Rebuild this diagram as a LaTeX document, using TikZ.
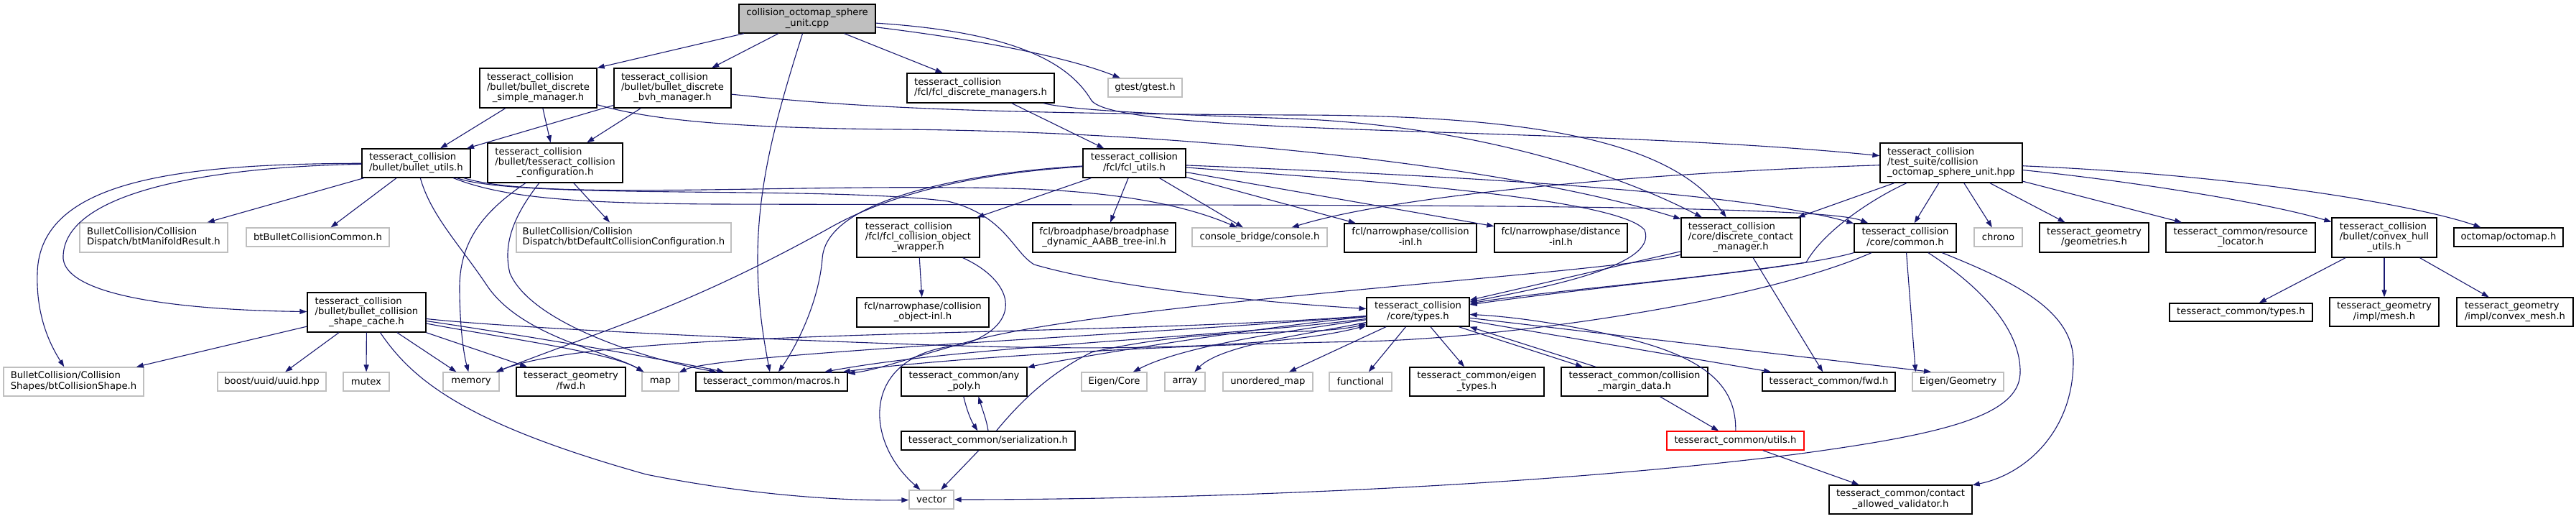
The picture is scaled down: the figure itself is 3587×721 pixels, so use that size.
\documentclass[tikz,border=0pt]{standalone}
\usepackage{fontspec}
\setmainfont{DejaVu Sans}
\usetikzlibrary{arrows.meta}
\definecolor{edgecol}{HTML}{191970}
\definecolor{grayb}{HTML}{BFBFBF}
\newcommand{\mlab}[2]{\begin{tabular}{@{}l@{}}#1\\\multicolumn{1}{@{}c@{}}{#2}\end{tabular}}
\newcommand{\mknode}[7]{\node[#6, minimum width=#4pt, minimum height=#5pt] (#1) at (#2,#3) {#7};}
\tikzset{
  nb/.style={draw=black, fill=white, line width=1.3pt, inner sep=0pt},
  ng/.style={draw=grayb, fill=white, line width=1.3pt, inner sep=0pt},
  nr/.style={draw=red, fill=white, line width=1.3pt, inner sep=0pt},
  nroot/.style={draw=black, fill=grayb, line width=1.3pt, inner sep=0pt},
  ed/.style={draw=edgecol, line width=1.1pt, line join=round, -{Triangle[length=10pt,width=7pt]}}
}
\begin{document}
\begin{tikzpicture}[x=1pt,y=-1pt,font=\fontsize{13.2}{14.3}\selectfont]
\fill[white] (0,0) rectangle (3587,721);
\useasboundingbox (0,0) rectangle (3587,721);
% nodes
\mknode{root}{1124}{26}{190}{40}{nroot}{\mlab{collision\_octomap\_sphere}{\_unit.cpp}}
\mknode{sm}{749.5}{122.5}{163}{55}{nb}{\mlab{tesseract\_collision\\/bullet/bullet\_discrete}{\_simple\_manager.h}}
\mknode{bvh}{936.5}{122.5}{163}{55}{nb}{\mlab{tesseract\_collision\\/bullet/bullet\_discrete}{\_bvh\_manager.h}}
\mknode{fdm}{1365.5}{122.5}{205}{41}{nb}{\mlab{tesseract\_collision}{/fcl/fcl\_discrete\_managers.h}}
\mknode{gtest}{1594.5}{122}{103}{26}{ng}{gtest/gtest.h}
\mknode{bu}{579.5}{227}{151}{40}{nb}{\mlab{tesseract\_collision}{/bullet/bullet\_utils.h}}
\mknode{tcc}{773}{226.5}{188}{55}{nb}{\mlab{tesseract\_collision\\/bullet/tesseract\_collision}{\_configuration.h}}
\mknode{fu}{1579.5}{227}{143}{40}{nb}{\mlab{tesseract\_collision}{/fcl/fcl\_utils.h}}
\mknode{hpp}{2717}{226.5}{198}{55}{nb}{\mlab{tesseract\_collision\\/test\_suite/collision}{\_octomap\_sphere\_unit.hpp}}
\mknode{btmr}{214}{330.5}{206}{41}{ng}{\mlab{BulletCollision/Collision}{Dispatch/btManifoldResult.h}}
\mknode{btbcc}{442.5}{330}{199}{26}{ng}{btBulletCollisionCommon.h}
\mknode{btdcc}{868.5}{330.5}{299}{41}{ng}{\mlab{BulletCollision/Collision}{Dispatch/btDefaultCollisionConfiguration.h}}
\mknode{fcow}{1278.5}{330.5}{171}{55}{nb}{\mlab{tesseract\_collision\\/fcl/fcl\_collision\_object}{\_wrapper.h}}
\mknode{aabb}{1537.5}{330.5}{199}{41}{nb}{\mlab{fcl/broadphase/broadphase}{\_dynamic\_AABB\_tree-inl.h}}
\mknode{console}{1754}{330}{188}{26}{ng}{console\_bridge/console.h}
\mknode{ncol}{1964}{331}{184}{40}{nb}{\mlab{fcl/narrowphase/collision}{-inl.h}}
\mknode{ndist}{2173.5}{331}{185}{40}{nb}{\mlab{fcl/narrowphase/distance}{-inl.h}}
\mknode{dcm}{2424}{330.5}{166}{55}{nb}{\mlab{tesseract\_collision\\/core/discrete\_contact}{\_manager.h}}
\mknode{common}{2653}{331}{142}{40}{nb}{\mlab{tesseract\_collision}{/core/common.h}}
\mknode{chrono}{2782.5}{330}{67}{26}{ng}{chrono}
\mknode{geoms}{2916}{330.5}{152}{41}{nb}{\mlab{tesseract\_geometry}{/geometries.h}}
\mknode{resloc}{3120}{330.5}{208}{41}{nb}{\mlab{tesseract\_common/resource}{\_locator.h}}
\mknode{chu}{3320}{330.5}{146}{55}{nb}{\mlab{tesseract\_collision\\/bullet/convex\_hull}{\_utils.h}}
\mknode{octomap}{3493}{330}{152}{26}{nb}{octomap/octomap.h}
\mknode{bcsc}{510.5}{434.5}{165}{55}{nb}{\mlab{tesseract\_collision\\/bullet/bullet\_collision}{\_shape\_cache.h}}
\mknode{ncoi}{1285}{434.5}{184}{41}{nb}{\mlab{fcl/narrowphase/collision}{\_object-inl.h}}
\mknode{types}{1974.5}{434}{143}{40}{nb}{\mlab{tesseract\_collision}{/core/types.h}}
\mknode{tctypes}{3120.5}{434.5}{199}{25}{nb}{tesseract\_common/types.h}
\mknode{mesh}{3320}{434}{152}{40}{nb}{\mlab{tesseract\_geometry}{/impl/mesh.h}}
\mknode{cmesh}{3502}{434}{162}{40}{nb}{\mlab{tesseract\_geometry}{/impl/convex\_mesh.h}}
\mknode{btcs}{102.5}{531}{195}{40}{ng}{\mlab{BulletCollision/Collision}{Shapes/btCollisionShape.h}}
\mknode{uuid}{378.5}{531}{151}{26}{ng}{boost/uuid/uuid.hpp}
\mknode{mutex}{510}{531}{64}{26}{ng}{mutex}
\mknode{memory}{656}{531}{78}{26}{ng}{memory}
\mknode{gfwd}{795}{531}{152}{40}{nb}{\mlab{tesseract\_geometry}{/fwd.h}}
\mknode{map}{919.5}{531}{51}{26}{ng}{map}
\mknode{macros}{1074.5}{531}{211}{26}{nb}{tesseract\_common/macros.h}
\mknode{anypoly}{1342.5}{531}{175}{40}{nb}{\mlab{tesseract\_common/any}{\_poly.h}}
\mknode{eigcore}{1551.5}{531}{91}{26}{ng}{Eigen/Core}
\mknode{array}{1650}{531}{56}{26}{ng}{array}
\mknode{umap}{1765.5}{531}{125}{26}{ng}{unordered\_map}
\mknode{functional}{1894.5}{531}{87}{26}{ng}{functional}
\mknode{eigtypes}{2056.5}{531}{187}{40}{nb}{\mlab{tesseract\_common/eigen}{\_types.h}}
\mknode{cmd}{2276}{531}{204}{40}{nb}{\mlab{tesseract\_common/collision}{\_margin\_data.h}}
\mknode{cfwd}{2546.5}{531}{185}{26}{nb}{tesseract\_common/fwd.h}
\mknode{eiggeom}{2726.5}{531}{127}{26}{ng}{Eigen/Geometry}
\mknode{serial}{1376}{613}{242}{26}{nb}{tesseract\_common/serialization.h}
\mknode{utils}{2416.5}{613}{191}{26}{nr}{tesseract\_common/utils.h}
\mknode{vector}{1297}{695}{62}{26}{ng}{vector}
\mknode{cav}{2646.5}{695}{199}{40}{nb}{\mlab{tesseract\_common/contact}{\_allowed\_validator.h}}
% edges: root
\draw[ed] (root) -- (sm.north east);
\draw[ed] (root) -- (bvh);
\draw[ed] (root) -- (fdm);
\draw[ed] (root) .. controls (1400,60) and (1500,85) .. (gtest);
\draw[ed] (root) .. controls (1420,45) and (1490,90) .. (1520,140) .. controls (1560,190) and (2200,175) .. (hpp);
\draw[ed] (root) .. controls (1085,150) and (1055,250) .. (1055,360) .. controls (1055,430) and (1065,480) .. (macros);
% sm, bvh, fdm
\draw[ed] (sm) -- (bu);
\draw[ed] (sm) -- (tcc);
\draw[ed] (sm) .. controls (900,165) and (1000,178) .. (1250,180) .. controls (1650,183) and (2100,230) .. (dcm);
\draw[ed] (bvh) -- (bu);
\draw[ed] (bvh) -- (tcc);
\draw[ed] (bvh) .. controls (1150,145) and (1300,158) .. (1800,160) .. controls (2150,160) and (2330,200) .. (dcm);
\draw[ed] (fdm) -- (fu);
\draw[ed] (fdm) .. controls (1500,155) and (1650,160) .. (1800,165) .. controls (2050,175) and (2250,240) .. (dcm);
% bullet_utils
\draw[ed] (bu) -- (btmr);
\draw[ed] (bu) -- (btbcc);
\draw[ed] (bu) .. controls (250,228) and (55,250) .. (52,380) .. controls (50,440) and (70,480) .. (btcs);
\draw[ed] (bu) .. controls (300,232) and (85,265) .. (88,360) .. controls (95,420) and (300,432) .. (bcsc);
\draw[ed] (bu) .. controls (600,300) and (640,340) .. (680,400) .. controls (730,470) and (850,490) .. (map);
\draw[ed] (bu) .. controls (750,280) and (1100,255) .. (1400,262) .. controls (1550,265) and (1650,285) .. (console);
\draw[ed] (bu) .. controls (720,278) and (1150,258) .. (1320,280) .. controls (1400,300) and (1410,350) .. (1440,368) .. controls (1550,400) and (1750,420) .. (types);
\draw[ed] (bu) .. controls (700,275) and (800,283) .. (1000,284) .. controls (1800,286) and (2530,282) .. (common);
% tesseract_collision_configuration
\draw[ed] (tcc) -- (btdcc);
\draw[ed] (tcc) .. controls (680,290) and (640,330) .. (640,400) .. controls (640,450) and (645,490) .. (memory);
\draw[ed] (tcc) .. controls (715,300) and (700,340) .. (710,380) .. controls (740,450) and (900,500) .. (macros);
% fcl_utils
\draw[ed] (fu) -- (fcow);
\draw[ed] (fu) -- (aabb);
\draw[ed] (fu) -- (console);
\draw[ed] (fu) -- (ncol);
\draw[ed] (fu) -- (ndist);
\draw[ed] (fu) .. controls (1380,240) and (1250,262) .. (1150,320) .. controls (950,430) and (850,455) .. (memory);
\draw[ed] (fu) .. controls (1380,238) and (1150,270) .. (1145,360) .. controls (1140,420) and (1110,480) .. (macros);
\draw[ed] (fu) .. controls (1800,245) and (2250,270) .. (2290,320) .. controls (2310,370) and (2150,400) .. (types);
\draw[ed] (fu) .. controls (1900,240) and (2400,260) .. (common);
% fcl_collision_object_wrapper
\draw[ed] (fcow) -- (ncoi);
\draw[ed] (fcow) .. controls (1410,390) and (1430,450) .. (1340,480) .. controls (1200,490) and (1200,610) .. (vector);
% test suite hpp
\draw[ed] (hpp) .. controls (2300,240) and (1950,270) .. (console);
\draw[ed] (hpp) -- (dcm);
\draw[ed] (hpp) .. controls (2610,275) and (2540,320) .. (2515,365) .. controls (2350,390) and (2150,405) .. (types);
\draw[ed] (hpp) -- (common);
\draw[ed] (hpp) -- (chrono);
\draw[ed] (hpp) -- (geoms);
\draw[ed] (hpp) -- (resloc);
\draw[ed] (hpp) .. controls (2950,250) and (3150,280) .. (chu);
\draw[ed] (hpp) .. controls (3150,245) and (3380,290) .. (octomap);
% convex hull utils
\draw[ed] (chu) -- (tctypes);
\draw[ed] (chu) -- (mesh);
\draw[ed] (chu) -- (cmesh);
% discrete contact manager
\draw[ed] (dcm) -- (types);
\draw[ed] (dcm) .. controls (2250,380) and (1550,420) .. (1350,475) .. controls (1260,500) and (1220,515) .. (macros);
\draw[ed] (dcm) -- (cfwd);
% common
\draw[ed] (common) .. controls (2500,375) and (2250,395) .. (types);
\draw[ed] (common) .. controls (2450,420) and (2100,470) .. (1900,475) .. controls (1600,480) and (1300,500) .. (macros);
\draw[ed] (common) -- (eiggeom.167);
\draw[ed] (common) .. controls (2800,390) and (2885,430) .. (2887,500) .. controls (2888,600) and (2820,660) .. (cav);
\draw[ed] (common) .. controls (2760,400) and (2815,460) .. (2813,520) .. controls (2810,580) and (2700,605) .. (2500,632) .. controls (2100,682) and (1600,695) .. (vector);
% core types
\draw[ed] (types) -- (umap);
\draw[ed] (types) -- (functional);
\draw[ed] (types) -- (eigtypes);
\draw[ed] (types.-20) -- (cmd.164);
\draw[ed] (types) -- (cfwd);
\draw[ed] (types) -- (eiggeom.160);
\draw[ed] (types) .. controls (1800,460) and (1650,480) .. (eigcore);
\draw[ed] (types) .. controls (1820,465) and (1700,480) .. (array);
\draw[ed] (types) .. controls (1750,455) and (1480,500) .. (anypoly);
\draw[ed] (types) .. controls (1700,470) and (1350,480) .. (macros);
\draw[ed] (types) .. controls (1600,465) and (1000,492) .. (map);
\draw[ed] (types) .. controls (1500,470) and (850,455) .. (memory);
% collision margin data, utils
\draw[ed] (cmd.159) -- (types.-16);
\draw[ed] (cmd) -- (utils);
\draw[ed] (utils) .. controls (2418,540) and (2380,500) .. (2270,472) .. controls (2180,450) and (2100,440) .. (types);
\draw[ed] (utils) -- (cav);
% any_poly, serialization
\draw[ed] (anypoly.-92) .. controls (1346,570) and (1352,585) .. (serial.137);
\draw[ed] (serial.north) .. controls (1374,585) and (1368,570) .. (anypoly.-46);
\draw[ed] (serial) -- (vector);
\draw[ed] (serial) .. controls (1420,560) and (1460,520) .. (1520,490) .. controls (1700,450) and (1820,470) .. (types);
% bullet collision shape cache
\draw[ed] (bcsc) -- (btcs);
\draw[ed] (bcsc) -- (uuid);
\draw[ed] (bcsc) -- (mutex);
\draw[ed] (bcsc) -- (memory);
\draw[ed] (bcsc) -- (gfwd);
\draw[ed] (bcsc) .. controls (700,470) and (850,490) .. (map);
\draw[ed] (bcsc) .. controls (700,462) and (900,495) .. (macros);
\draw[ed] (bcsc) .. controls (575,530) and (650,590) .. (900,660) .. controls (1050,690) and (1180,697) .. (vector);
\draw[ed] (bcsc) .. controls (700,455) and (1000,470) .. (1300,480) .. controls (1600,490) and (1800,480) .. (types);
\end{tikzpicture}
\end{document}
